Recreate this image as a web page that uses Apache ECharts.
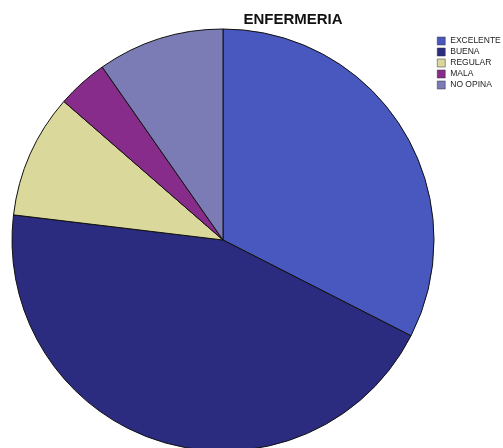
<!DOCTYPE html>
<html>
<head>
<meta charset="utf-8">
<script src="https://cdn.jsdelivr.net/npm/echarts@6/dist/echarts.min.js"></script>
<style>
  html, body { margin: 0; padding: 0; background: #fff; }
  #chart { width: 503px; height: 448px; }
</style>
</head>
<body>
<div id="chart"></div>
<script>
// Ratings for nursing service (percent of responses)
const categories = ['EXCELENTE', 'BUENA', 'REGULAR', 'MALA', 'NO OPINA'];
const values = [32.5, 44.4, 9.5, 3.9, 9.7];
const colors = ['#4858BE', '#2B2B80', '#DAD89A', '#872C8A', '#7B7CB6'];

const chart = echarts.init(document.getElementById('chart'));
chart.setOption({
  animation: false,
  backgroundColor: '#ffffff',
  title: {
    text: 'ENFERMERIA',
    left: 293,
    textAlign: 'center',
    top: 12,
    padding: 0,
    textStyle: { fontFamily: 'Liberation Sans, Arial', fontSize: 15, fontWeight: 'bold', color: '#111' }
  },
  legend: {
    orient: 'vertical',
    left: 437,
    top: 36,
    padding: 0,
    itemWidth: 8,
    itemHeight: 8,
    itemGap: 1,
    icon: 'rect',
    itemStyle: { borderWidth: 0.5, borderColor: '#333' },
    textStyle: { fontFamily: 'Liberation Sans, Arial', fontSize: 8.5, lineHeight: 10, color: '#222' },
    data: categories
  },
  series: [{
    type: 'pie',
    center: [223, 240],
    radius: [0, 211],
    startAngle: 90,
    clockwise: true,
    label: { show: false },
    labelLine: { show: false },
    itemStyle: { borderColor: '#111', borderWidth: 1 },
    emphasis: { disabled: true },
    data: categories.map((c, i) => ({ name: c, value: values[i], itemStyle: { color: colors[i] } }))
  }]
});
</script>
</body>
</html>
